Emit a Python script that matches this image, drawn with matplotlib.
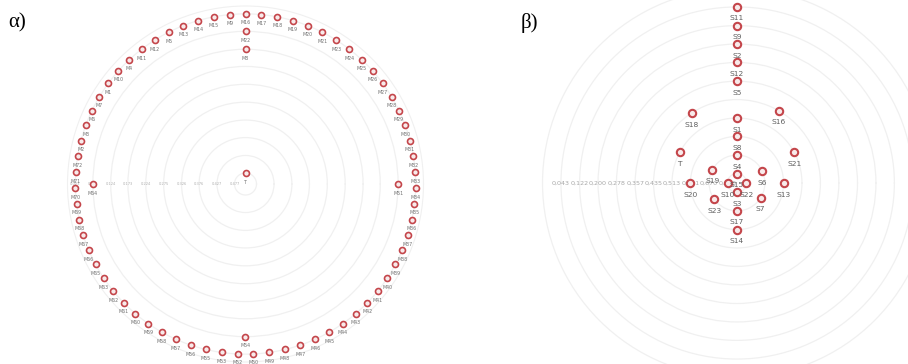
import numpy as np
import matplotlib
matplotlib.use('Agg')
import matplotlib.pyplot as plt

# α) outer ring, counter-clockwise starting at the top
left_ring_names = ['M16', 'M9', 'M15', 'M14', 'M13', 'M5', 'M12', 'M11', 'M4', 'M10',
                   'M1', 'M7', 'M6', 'M3', 'M2', 'M72', 'M71', 'M70', 'M69', 'M68',
                   'M67', 'M66', 'M65', 'M63', 'M62', 'M61', 'M60', 'M59', 'M58', 'M57',
                   'M56', 'M55', 'M53', 'M52', 'M50', 'M49', 'M48', 'M47', 'M46', 'M45',
                   'M44', 'M43', 'M42', 'M41', 'M40', 'M39', 'M38', 'M37', 'M36', 'M35',
                   'M34', 'M33', 'M32', 'M31', 'M30', 'M29', 'M28', 'M27', 'M26', 'M25',
                   'M24', 'M23', 'M21', 'M20', 'M19', 'M18', 'M17']
left_ring_value = 0.023
left_inner_names = ['T', 'M8', 'M22', 'M51', 'M64', 'M54']
left_inner_values = [0.477, 0.124, 0.073, 0.073, 0.073, 0.073]
left_inner_angles = [90, 90, 90, 0, 180, 270]
left_ticks = [0.477, 0.427, 0.376, 0.326, 0.275, 0.224, 0.173, 0.124, 0.073, 0.023]
left_tick_labels = ['0.477', '0.427', '0.376', '0.326', '0.275', '0.224', '0.173',
                    '0.124', '0.073', '0.023']

# β)
right_names = ['S11', 'S9', 'S2', 'S12', 'S5', 'S18', 'S1', 'S16', 'S8', 'S4', 'T', 'S21',
               'S19', 'S6', 'S15', 'S20', 'S10', 'S22', 'S13', 'S3', 'S23', 'S7', 'S17', 'S14']
right_values = [0.043, 0.122, 0.200, 0.278, 0.357, 0.435, 0.513, 0.435, 0.591, 0.670, 0.513, 0.513,
                0.670, 0.670, 0.748, 0.591, 0.748, 0.748, 0.591, 0.748, 0.670, 0.670, 0.670, 0.591]
right_angles = [90, 90, 90, 90, 90, 123, 90, 60, 90, 90, 152, 28,
                152, 25, 90, 180, 180, 0, 0, 270, 215, 328, 270, 270]
right_ticks = [0.748, 0.670, 0.591, 0.513, 0.435, 0.357, 0.278, 0.200, 0.122, 0.043]
right_tick_labels = ['0,748', '0,670', '0,591', '0,513', '0,435', '0,357', '0,278',
                     '0,200', '0,122', '0,043']
right_extra_ring = -0.035

W, H = 908, 364
fig = plt.figure(figsize=(W / 100, H / 100), dpi=100)
fig.patch.set_facecolor('white')

node_style = dict(ls='none', marker='o', mfc='#f8eaea', mec='#c4464b', clip_on=False, zorder=5)
ring_color = '#f0f0f0'


def polar_axes(cx, cy, rpx):
    ax = fig.add_axes([(cx - rpx) / W, (H - cy - rpx) / H, 2 * rpx / W, 2 * rpx / H],
                      projection='polar')
    ax.patch.set_alpha(0)
    ax.set_xticks([])
    return ax


# α)
axL = polar_axes(245.5, 184, 178)
axL.set_rlim(0.5084, 0.0006)
axL.set_yticks(left_ticks)
axL.set_yticklabels([])
axL.grid(True, color=ring_color, lw=0.9)
axL.spines['polar'].set_color(ring_color)
for v, lab in zip(left_ticks, left_tick_labels):
    axL.text(np.pi, v, lab, ha='center', va='center', fontsize=2.6, color='#b0b0b0', zorder=3)

ring_theta = np.deg2rad(90 + 360 * np.arange(len(left_ring_names)) / len(left_ring_names))
l_theta = np.concatenate([ring_theta, np.deg2rad(left_inner_angles)])
l_r = np.concatenate([np.full(len(left_ring_names), left_ring_value), left_inner_values])
l_names = left_ring_names + left_inner_names
axL.plot(l_theta, l_r, ms=4.3, mew=1.2, **node_style)
for t, r, n in zip(l_theta, l_r, l_names):
    axL.annotate(n, (t, r), xytext=(0, -6.5), textcoords='offset points',
                 ha='center', va='center', fontsize=3.4, color='#707070', zorder=6)

# β)
axR = polar_axes(737, 183, 205)
axR.set_rlim(0.788, 0.788 - 205 / 236.3)
axR.set_yticks(right_ticks + [right_extra_ring])
axR.set_yticklabels([])
axR.grid(True, color=ring_color, lw=0.9)
axR.spines['polar'].set_visible(False)
for v, lab in zip(right_ticks, right_tick_labels):
    axR.text(np.pi, v, lab, ha='center', va='center', fontsize=4.6, color='#a8a8a8', zorder=3)

r_theta = np.deg2rad(right_angles)
axR.plot(r_theta, right_values, ms=5.3, mew=1.5, **node_style)
for t, r, n in zip(r_theta, right_values, right_names):
    axR.annotate(n, (t, r), xytext=(0, -8.3), textcoords='offset points',
                 ha='center', va='center', fontsize=5.4, color='#606060', zorder=6)

fig.text(8 / W, 1 - 23 / H, 'α)', fontsize=15, family='Liberation Serif', va='center', ha='left')
fig.text(521 / W, 1 - 23 / H, 'β)', fontsize=15, family='Liberation Serif', va='center', ha='left')

fig.savefig('out.png', dpi=100)
